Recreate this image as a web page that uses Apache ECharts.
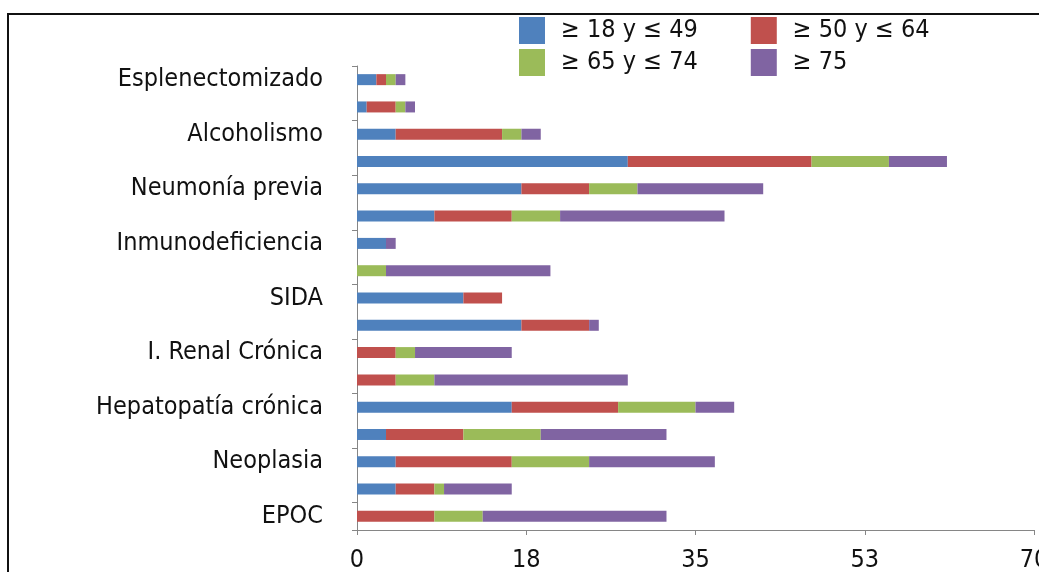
<!DOCTYPE html>
<html>
<head>
<meta charset="utf-8">
<script src="https://cdn.jsdelivr.net/npm/echarts@6/dist/echarts.min.js"></script>
<style>
  html, body { margin: 0; padding: 0; background: #fff; }
  #chart { width: 1039px; height: 572px; }
</style>
</head>
<body>
<div id="chart"></div>
<script>
// Categories, top to bottom (only every other label is shown in the original)
const categories = [
  "Esplenectomizado", "cat-2", "Alcoholismo", "cat-4", "Neumonía previa", "cat-6",
  "Inmunodeficiencia", "cat-8", "SIDA", "cat-10", "I. Renal Crónica", "cat-12",
  "Hepatopatía crónica", "cat-14", "Neoplasia", "cat-16", "EPOC"
];
const seriesNames = ["≥ 18 y ≤ 49", "≥ 50 y ≤ 64", "≥ 65 y ≤ 74", "≥ 75"];
const age18to49 = [2, 1, 4, 28, 17, 8, 3, 0, 11, 17, 0, 0, 16, 3, 4, 4, 0];
const age50to64 = [1, 3, 11, 19, 7, 8, 0, 0, 4, 7, 4, 4, 11, 8, 12, 4, 8];
const age65to74 = [1, 1, 2, 8, 5, 5, 0, 3, 0, 0, 2, 4, 8, 8, 8, 1, 5];
const age75plus = [1, 1, 2, 6, 13, 17, 1, 17, 0, 1, 10, 20, 4, 13, 13, 7, 19];
const xMin = 0, xMax = 70, xInterval = 17.5;

const colors = ["#4F81BD", "#C0504D", "#9BBB59", "#8064A2"];
const FONT = "DejaVu Sans Condensed";
const TEXT_COLOR = "#111";
const allData = [age18to49, age50to64, age65to74, age75plus];

const chart = echarts.init(document.getElementById('chart'), null, { renderer: 'canvas' });

const legendCommon = {
  itemWidth: 26,
  itemHeight: 27,
  itemGap: 53,
  padding: 0,
  icon: 'rect',
  textStyle: { fontFamily: FONT, fontSize: 25, color: TEXT_COLOR, padding: [0, 0, 0, 11] }
};

chart.setOption({
  animation: false,
  color: colors,
  graphic: [{
    type: 'rect',
    shape: { x: 8, y: 14, width: 1200, height: 700 },
    style: { fill: null, stroke: '#111', lineWidth: 2 },
    silent: true
  }],
  legend: [
    Object.assign({ left: 519, top: 17, data: [seriesNames[0], seriesNames[1]] }, legendCommon),
    Object.assign({ left: 519, top: 49, data: [seriesNames[2], seriesNames[3]] }, legendCommon)
  ],
  grid: { left: 357, right: 5, top: 66, bottom: 42, containLabel: false, outerBoundsMode: 'none' },
  xAxis: {
    type: 'value',
    min: xMin, max: xMax, interval: xInterval,
    splitLine: { show: false },
    axisLine: { show: true, lineStyle: { color: '#868686', width: 1 } },
    axisTick: { show: true, length: 5, lineStyle: { color: '#868686' } },
    axisLabel: {
      fontFamily: FONT, fontSize: 25, color: TEXT_COLOR, margin: 18,
      hideOverlap: false,
      formatter: v => String(Math.round(v))
    }
  },
  yAxis: {
    type: 'category',
    inverse: true,
    data: categories,
    axisLine: { show: true, lineStyle: { color: '#868686', width: 1 } },
    axisTick: { show: true, length: 5, lineStyle: { color: '#868686' } },
    axisLabel: { interval: 1, fontFamily: FONT, fontSize: 25, color: TEXT_COLOR, margin: 34 }
  },
  series: seriesNames.map((name, i) => ({
    name: name,
    type: 'bar',
    stack: 'total',
    barWidth: 11,
    data: allData[i],
    itemStyle: { color: colors[i] }
  }))
});
</script>
</body>
</html>
